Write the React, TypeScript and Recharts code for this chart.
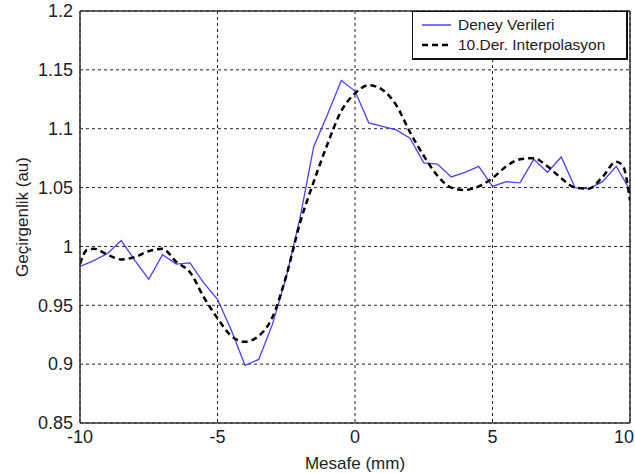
import React from 'react';
import { LineChart, Line, XAxis, YAxis, CartesianGrid, ReferenceLine, Label } from 'recharts';

const xTicks = [-10, -5, 0, 5, 10];
const yTicks = [0.85, 0.9, 0.95, 1, 1.05, 1.1, 1.15, 1.2];
const yTickLabels = ['0.85', '0.9', '0.95', '1', '1.05', '1.1', '1.15', '1.2'];

const seriesNames = ['Deney Verileri', '10.Der. Interpolasyon'];

const expX = [-10, -9.5, -9, -8.5, -8, -7.5, -7, -6.5, -6, -5.5, -5, -4.5, -4, -3.5, -3, -2.5, -2, -1.5, -1, -0.5, 0, 0.5, 1, 1.5, 2, 2.5, 3, 3.5, 4, 4.5, 5, 5.5, 6, 6.5, 7, 7.5, 8, 8.5, 9, 9.5, 10];
const expY = [0.983, 0.988, 0.994, 1.005, 0.988, 0.972, 0.993, 0.985, 0.986, 0.969, 0.955, 0.929, 0.899, 0.904, 0.934, 0.974, 1.024, 1.085, 1.112, 1.141, 1.132, 1.105, 1.102, 1.099, 1.092, 1.071, 1.07, 1.059, 1.063, 1.068, 1.051, 1.055, 1.054, 1.074, 1.063, 1.076, 1.05, 1.049, 1.055, 1.068, 1.048];

const fitX = [-10, -9.75, -9.5, -9, -8.5, -8, -7.5, -7, -6.5, -6, -5.5, -5, -4.5, -4, -3.5, -3, -2.5, -2, -1.5, -1, -0.5, 0, 0.5, 1, 1.5, 2, 2.5, 3, 3.5, 4, 4.5, 5, 5.5, 6, 6.5, 7, 7.5, 8, 8.5, 9, 9.5, 9.75, 10];
const fitY = [0.985, 0.997, 0.998, 0.993, 0.989, 0.991, 0.996, 0.998, 0.987, 0.978, 0.957, 0.939, 0.924, 0.919, 0.924, 0.94, 0.975, 1.02, 1.055, 1.087, 1.115, 1.13, 1.137, 1.133, 1.12, 1.097, 1.077, 1.06, 1.05, 1.048, 1.051, 1.058, 1.068, 1.074, 1.075, 1.068, 1.058, 1.05, 1.049, 1.059, 1.072, 1.068, 1.039];

const expData = expX.map((x, i) => ({ x, y: expY[i] }));
const fitData = fitX.map((x, i) => ({ x, y: fitY[i] }));

const FONT = '"Liberation Sans", Arial, sans-serif';
const TEXT = '#222';

const YTick = (props: any) => {
  const { x, y, payload } = props;
  const idx = yTicks.indexOf(payload.value);
  return (
    <text x={x} y={y} dy="0.35em" textAnchor="end" fontFamily={FONT} fontSize={18} fill={TEXT}>
      {idx >= 0 ? yTickLabels[idx] : String(payload.value)}
    </text>
  );
};

const XTick = (props: any) => {
  const { x, y, payload } = props;
  const isLast = payload.value === xTicks[xTicks.length - 1];
  return (
    <text x={isLast ? 634 : x} y={y} dy="0.71em" textAnchor={isLast ? 'end' : 'middle'} fontFamily={FONT} fontSize={18} fill={TEXT}>
      {String(payload.value)}
    </text>
  );
};

const YLabel = () => {
  const cx = 22;
  const cy = 217;
  return (
    <text x={cx} y={cy} transform={`rotate(-90, ${cx}, ${cy})`} textAnchor="middle" dominantBaseline="central" fontFamily={FONT} fontSize={17} fill={TEXT}>
      Geçirgenlik (au)
    </text>
  );
};

const LegendBox = () => (
  <div style={{ position: 'absolute', left: 412, top: 11, width: 213, height: 46, border: '1px solid #111', borderRightWidth: 2, borderBottomWidth: 2, background: '#fff', fontFamily: FONT, fontSize: 15.5, color: TEXT }}>
    <svg width={40} height={46} style={{ position: 'absolute', left: 0, top: 0 }}>
      <line x1={9} y1={13} x2={38} y2={13} stroke="#4444ff" strokeWidth={1.5} />
      <line x1={9} y1={33} x2={38} y2={33} stroke="#000" strokeWidth={2.5} strokeDasharray="6 4" />
    </svg>
    <div style={{ position: 'absolute', left: 45, top: 4, lineHeight: '18px', whiteSpace: 'nowrap' }}>{seriesNames[0]}</div>
    <div style={{ position: 'absolute', left: 45, top: 24, lineHeight: '18px', whiteSpace: 'nowrap' }}>{seriesNames[1]}</div>
  </div>
);

export default function App() {
  return (
    <div style={{ position: 'absolute', left: 0, top: 0, width: 635, height: 473, background: '#fff' }}>
      <LineChart width={635} height={473} margin={{ top: 11, right: 5, bottom: 0, left: 20 }}>
        <CartesianGrid stroke="#222" strokeDasharray="3 3" strokeWidth={1} />
        <XAxis
          type="number"
          dataKey="x"
          domain={[-10, 10]}
          ticks={xTicks}
          allowDataOverflow
          height={50}
          tickSize={0}
          tickMargin={7}
          tickLine={false}
          axisLine={{ stroke: '#333', strokeWidth: 1.5 }}
          tick={<XTick />}
        >
          <Label value="Mesafe (mm)" position="insideBottom" offset={4} fontFamily={FONT} fontSize={17} fill={TEXT} />
        </XAxis>
        <YAxis
          type="number"
          dataKey="y"
          domain={[0.85, 1.2]}
          ticks={yTicks}
          allowDataOverflow
          width={60}
          tickSize={0}
          tickMargin={7}
          tickLine={false}
          axisLine={{ stroke: '#333', strokeWidth: 1.5 }}
          tick={<YTick />}
        >
          <Label content={<YLabel />} />
        </YAxis>
        <ReferenceLine y={1.2} stroke="#333" strokeWidth={1.5} />
        <ReferenceLine x={10} stroke="#333" strokeWidth={1.5} />
        <Line data={expData} dataKey="y" name={seriesNames[0]} type="linear" stroke="#4444ff" strokeWidth={1.3} dot={false} isAnimationActive={false} />
        <Line data={fitData} dataKey="y" name={seriesNames[1]} type="monotone" stroke="#000" strokeWidth={2.5} strokeDasharray="6 4" dot={false} isAnimationActive={false} />
      </LineChart>
      <LegendBox />
    </div>
  );
}
